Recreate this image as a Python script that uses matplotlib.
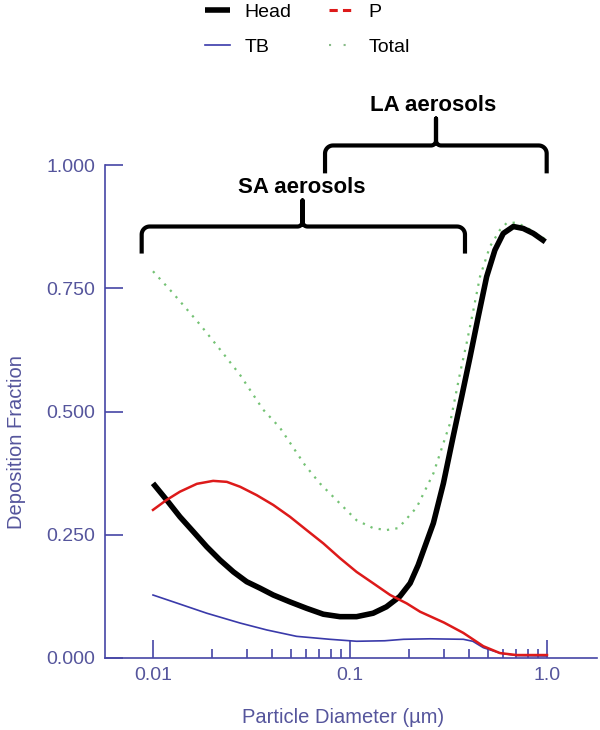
import numpy as np
import matplotlib
matplotlib.use("Agg")
import matplotlib.pyplot as plt
from matplotlib.lines import Line2D
from matplotlib.ticker import FixedLocator, NullFormatter, FixedFormatter
from matplotlib.transforms import IdentityTransform

plt.rcParams['font.family'] = ['Liberation Sans', 'DejaVu Sans']

# ---------------- data ----------------
head_x = [0.01, 0.01174, 0.0137, 0.0160, 0.01875, 0.0219, 0.0256, 0.0299, 0.0349, 0.0408,
          0.0496, 0.0602, 0.0732, 0.0889, 0.108, 0.131, 0.153, 0.179, 0.202, 0.222,
          0.265, 0.298, 0.334, 0.369, 0.407, 0.448, 0.494, 0.544, 0.600, 0.675,
          0.758, 0.852, 0.98]
head_y = [0.354, 0.320, 0.286, 0.256, 0.225, 0.198, 0.174, 0.154, 0.141, 0.127,
          0.113, 0.100, 0.088, 0.083, 0.083, 0.090, 0.103, 0.124, 0.151, 0.188,
          0.273, 0.354, 0.449, 0.530, 0.611, 0.693, 0.774, 0.828, 0.862, 0.876,
          0.872, 0.862, 0.845]

p_x = [0.01, 0.0117, 0.0137, 0.0167, 0.0202, 0.0237, 0.0277, 0.0336, 0.0408, 0.0496,
       0.0602, 0.0732, 0.0889, 0.108, 0.131, 0.160, 0.194, 0.227, 0.30, 0.376,
       0.475, 0.577, 0.7, 1.0]
p_y = [0.300, 0.320, 0.337, 0.353, 0.359, 0.357, 0.347, 0.330, 0.310, 0.286,
       0.259, 0.232, 0.202, 0.174, 0.151, 0.127, 0.110, 0.093, 0.071, 0.050,
       0.023, 0.009, 0.005, 0.005]

tb_x = [0.01, 0.0127, 0.01875, 0.0277, 0.0378, 0.0536, 0.079, 0.108, 0.15, 0.187,
        0.255, 0.376, 0.42, 0.475, 0.577, 0.7, 1.0]
tb_y = [0.127, 0.113, 0.090, 0.070, 0.056, 0.043, 0.037, 0.033, 0.034, 0.037,
        0.038, 0.037, 0.033, 0.020, 0.009, 0.004, 0.003]

total_x = [0.01, 0.0126, 0.0173, 0.0219, 0.0276, 0.0362, 0.0441, 0.0591, 0.0703, 0.0889,
           0.108, 0.131, 0.153, 0.176, 0.218, 0.265, 0.322, 0.362, 0.391, 0.423,
           0.457, 0.513, 0.577, 0.624, 0.70, 0.82, 0.98]
total_y = [0.785, 0.741, 0.677, 0.626, 0.575, 0.504, 0.467, 0.391, 0.354, 0.313,
           0.279, 0.263, 0.259, 0.263, 0.305, 0.374, 0.476, 0.578, 0.639, 0.706,
           0.774, 0.835, 0.869, 0.883, 0.884, 0.870, 0.850]

y_ticks = [0.0, 0.25, 0.5, 0.75, 1.0]
y_tick_labels = ['0.000', '0.250', '0.500', '0.750', '1.000']
x_ticks = [0.01, 0.1, 1.0]
x_tick_labels = ['0.01', '0.1', '1.0']
x_minor = [0.02, 0.03, 0.04, 0.05, 0.06, 0.07, 0.08, 0.09,
           0.2, 0.3, 0.4, 0.5, 0.6, 0.7, 0.8, 0.9]

series_labels = ['Head', 'TB', 'P', 'Total']

# brackets: (x_start, x_end, x_center, y_end, y_horizontal, y_peak, label, label_x, label_y)
brackets = [
    (0.00876, 0.3835, 0.0574, 0.821, 0.876, 0.929, 'SA aerosols', 0.0570, 0.956),
    (0.0747, 0.9965, 0.2733, 0.984, 1.0407, 1.0955, 'LA aerosols', 0.2638, 1.122),
]

# ---------------- style ----------------
AXC = '#4646a6'
TXC = '#55559c'
FS = 14

fig = plt.figure(figsize=(6, 7.3), dpi=100)
ax = fig.add_axes([104.5 / 600, (730 - 657.5) / 730, (597 - 104.5) / 600, (657.5 - 60) / 730])
ax.set_xscale('log')
ax.set_xlim(0.005673, 1.7944)
ax.set_ylim(0, 597.5 / 492)

ax.plot(total_x, total_y, color='#74c274', lw=1.6, linestyle=(0, (1, 2.8)), zorder=2)
l_tb, = ax.plot(tb_x, tb_y, color='#3a3aaa', lw=1.2, zorder=3)
l_head, = ax.plot(head_x, head_y, color='black', lw=4, solid_capstyle='butt',
                  solid_joinstyle='round', zorder=4)
ax.plot(p_x, p_y, color='#dd1a1a', lw=1.8, solid_joinstyle='round', zorder=5)

for s in ['top', 'right']:
    ax.spines[s].set_visible(False)
for s in ['left', 'bottom']:
    ax.spines[s].set_color(AXC)
    ax.spines[s].set_linewidth(1.2)
ax.spines['left'].set_bounds(0, 1)

ax.yaxis.set_major_locator(FixedLocator(y_ticks))
ax.yaxis.set_major_formatter(FixedFormatter(y_tick_labels))
ax.yaxis.set_minor_locator(FixedLocator([]))
ax.xaxis.set_major_locator(FixedLocator(x_ticks))
ax.xaxis.set_major_formatter(FixedFormatter(x_tick_labels))
ax.xaxis.set_minor_locator(FixedLocator(x_minor))
ax.xaxis.set_minor_formatter(NullFormatter())

ax.tick_params(axis='both', which='major', direction='in', length=13, width=1.2,
               color=AXC, labelcolor=TXC, labelsize=FS, pad=6.5)
ax.tick_params(axis='x', which='minor', direction='in', length=6.5, width=1.2, color=AXC)

ax.set_xlabel('Particle Diameter (µm)', fontsize=FS + 0.5, color=TXC, va='center', ha='center')
ax.xaxis.set_label_coords(0.484, -0.1005)
ax.set_ylabel('Deposition Fraction', fontsize=FS + 0.5, color=TXC, va='center', ha='center')
ax.yaxis.set_label_coords((17 - 104.5) / 492.5, (657.5 - 442) / 597.5)

# legend
h_p = Line2D([], [], color='#dd1a1a', lw=2.2, dashes=(2.7, 1.7))
h_total = Line2D([], [], color='#88bb88', lw=1.5, linestyle=(0, (1, 6)))
fig.legend(handles=[l_head, l_tb, h_p, h_total], labels=series_labels, ncol=2,
           loc='upper left', bbox_to_anchor=(205 / 600, 1 - 3 / 730), frameon=False,
           borderpad=0, borderaxespad=0, handlelength=1.3, handletextpad=0.75,
           columnspacing=1.9, labelspacing=0.9, prop={'size': FS})


def draw_bracket(x0, x1, xc, y_end, y_h, y_peak, r=8, rf=5):
    T = ax.transData
    px0, pyend = T.transform((x0, y_end))
    px1, _ = T.transform((x1, y_end))
    pxc, pyh = T.transform((xc, y_h))
    _, pypk = T.transform((xc, y_peak))
    th = np.linspace(0, np.pi / 2, 12)
    xs, ys = [px0], [pyend]
    xs += list(px0 + r - r * np.cos(th)); ys += list(pyh - r + r * np.sin(th))
    xs += list(pxc - rf + rf * np.sin(th)); ys += list(pyh + rf - rf * np.cos(th))
    xs += [pxc, pxc]; ys += [pypk, pyh + rf]
    th2 = th[::-1]
    xs += list(pxc + rf - rf * np.sin(th2)); ys += list(pyh + rf - rf * np.cos(th2))
    xs += list(px1 - r + r * np.sin(th)); ys += list(pyh - r + r * np.cos(th))
    xs += [px1]; ys += [pyend]
    fig.add_artist(Line2D(xs, ys, transform=IdentityTransform(), color='black', lw=3,
                          solid_joinstyle='round', solid_capstyle='butt'))


for (x0, x1, xc, ye, yh, yp, lab, lx, ly) in brackets:
    draw_bracket(x0, x1, xc, ye, yh, yp)
    ax.text(lx, ly, lab, ha='center', va='center', fontsize=16, fontweight='bold',
            color='black', clip_on=False)

fig.savefig('out.png', dpi=100)
